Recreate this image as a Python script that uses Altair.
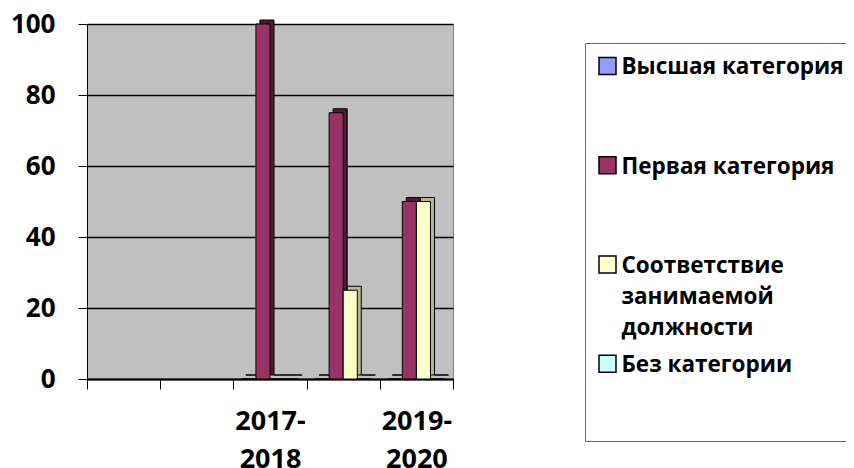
import altair as alt
import pandas as pd

categories = ["  ", " ", "2017-2018", "2018-2019", "2019-2020"]
series = ["Высшая категория", "Первая категория",
          "Соответствие занимаемой должности", "Без категории"]
vysshaya = [None, None, 0, 0, 0]
pervaya = [None, None, 100, 75, 50]
sootvetstvie = [None, None, 0, 25, 50]
bez = [None, None, 0, 0, 0]
y_ticks = [0, 20, 40, 60, 80, 100]
shown_labels = ["2017-2018", "2019-2020"]

colors = ["#9999FF", "#993366", "#FFFFCC", "#CCFFFF"]
side_colors = ["#6B6BB3", "#4F1A35", "#B8B890", "#90B8B8"]

rows = []
for s, vals in zip(series, [vysshaya, pervaya, sootvetstvie, bez]):
    for c, v in zip(categories, vals):
        if v is not None:
            rows.append({"year": c, "series": s, "value": v})
df = pd.DataFrame(rows)

FONT = "Open Sans"
W, H = 366, 355
BAND = W / len(categories)
DEPTH = 4

shown_js = "[" + ",".join("'%s'" % s for s in shown_labels) + "]"
x_label_expr = ("indexof(%s, datum.value) >= 0 ? "
                "[slice(datum.value, 0, 5), slice(datum.value, 5)] : ''") % shown_js
legend_label_expr = ("length(datum.label) > 20 ? "
                     "split(datum.label, ' ') : [datum.label, '', '']")

x_enc = alt.X(
    "year:N",
    scale=alt.Scale(domain=categories, paddingInner=0, paddingOuter=0),
    axis=alt.Axis(
        title=None, labelAngle=0, labelExpr=x_label_expr,
        labelFont=FONT, labelFontWeight="bold", labelFontSize=27,
        labelColor="black", labelLineHeight=38, labelBaseline="top",
        labelPadding=19, labelOverlap=False, tickBand="extent",
        tickSize=10, tickColor="black", domainColor="black",
        domainWidth=2, grid=False,
    ),
)
y_enc = alt.Y(
    "value:Q",
    scale=alt.Scale(domain=[0, 100], nice=False),
    axis=alt.Axis(
        title=None, values=y_ticks, grid=True, gridColor="black",
        gridWidth=1.5, tickSize=9, tickColor="black", domainColor="black",
        labelFont=FONT, labelFontWeight="bold", labelFontSize=26,
        labelColor="black", labelPadding=23,
    ),
)

back = alt.Chart(df).mark_bar(
    yOffset=-DEPTH, y2Offset=-DEPTH, stroke="black", strokeWidth=1
).encode(
    x=x_enc,
    xOffset=alt.XOffset("series:N", scale=alt.Scale(
        domain=series, paddingOuter=0.6, paddingInner=0,
        range=[DEPTH, BAND + DEPTH])),
    y=y_enc,
    fill=alt.Fill("series:N", scale=alt.Scale(domain=series, range=side_colors),
                  legend=None),
)

front = alt.Chart(df).mark_bar(stroke="black", strokeWidth=1).encode(
    x=x_enc,
    xOffset=alt.XOffset("series:N", scale=alt.Scale(
        domain=series, paddingOuter=0.6, paddingInner=0)),
    y=y_enc,
    color=alt.Color(
        "series:N",
        scale=alt.Scale(domain=series, range=colors),
        legend=alt.Legend(
            title=None, orient="none", legendX=498, legendY=19,
            symbolType="M-8.5,1.25L8.5,1.25L8.5,18.25L-8.5,18.25Z", symbolSize=4,
            symbolStrokeColor="black", symbolStrokeWidth=1.5,
            symbolOffset=9.25, labelOffset=2.75,
            labelFont=FONT, labelFontWeight="bold", labelFontSize=22.5,
            labelColor="black", labelBaseline="top",
            labelLimit=0, labelExpr=legend_label_expr, rowPadding=3.25,
            padding=2, strokeColor="#666666", fillColor="white",
        ),
    ),
)

chart = alt.layer(back, front).resolve_scale(
    fill="independent", xOffset="independent"
).properties(
    width=W, height=H,
    autosize=alt.AutoSizeParams(type="none"),
    padding={"left": 79, "top": 16, "right": 393, "bottom": 89},
).configure(
    view=alt.ViewConfig(fill="#C0C0C0", stroke="#808080", strokeWidth=1),
    style={"guide-label": {"lineHeight": 31}},
)

chart.save("out.html", embed_options={"renderer": "svg", "actions": False})
